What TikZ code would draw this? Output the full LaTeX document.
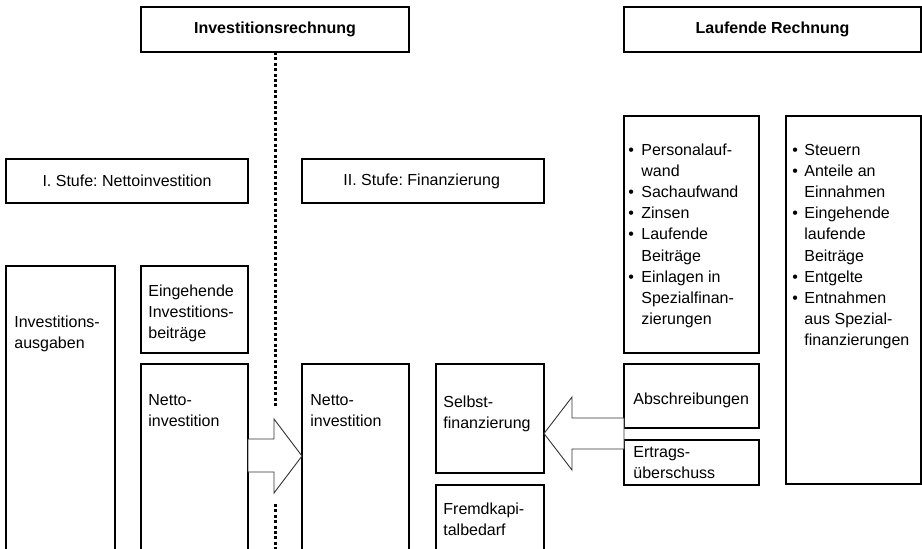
\documentclass[tikz,border=0pt]{standalone}
\usepackage{fontspec}
\setmainfont{Liberation Sans}
\usepackage{tikz}
\usetikzlibrary{positioning}
\frenchspacing

% mehrzeiliger Text, Grundlinie = erste Zeile
\newcommand{\zeilen}[1]{\begin{tabular}[t]{@{}l@{}}#1\end{tabular}}

\begin{document}
\begin{tikzpicture}[x=1pt,y=-1pt,
  every node/.style={font=\fontsize{8}{10.6}\selectfont},
  box/.style={draw,line width=.6pt,inner sep=0pt,outer sep=0pt,anchor=north west},
  headbox/.style={box,minimum height=22.5pt},
  boldtxt/.style={font=\fontsize{8}{10.6}\selectfont\bfseries},
  txt/.style={inner sep=0pt,anchor=base west},
  dotline/.style={line width=1.5pt,dash pattern=on 1.5pt off 1.2pt},
  blockarrow/.style={draw=black!80,line width=.45pt,fill=white,line join=miter}]

  \useasboundingbox (0,0) rectangle (461,274);
  \clip (0,0) rectangle (461,274);

  % Ueberschriften
  \node[headbox,boldtxt,minimum width=134pt] (rech) at (70.5,3.5) {Investitionsrechnung};
  \node[headbox,boldtxt,minimum width=148.5pt] (lauf) at (312,3.5) {Laufende Rechnung};
  \node[headbox,minimum width=121pt,minimum height=22pt] (stufeI) at (3,79.5) {I. Stufe: Nettoinvestition};
  \node[headbox,minimum width=121pt,minimum height=22pt] (stufeII) at (151,79.5) {};
  \node[txt,anchor=west] (stufeIIt) at ([xshift=20.5pt]stufeII.west) {II. Stufe: Finanzierung};

  % Kaesten
  \node[box,minimum width=54.5pt,minimum height=150pt] (ausg) at (3,133) {};
  \node[box,minimum width=53.5pt,minimum height=43.5pt] (beitr) at (70.5,133) {};
  \node[box,minimum width=53.5pt,minimum height=100pt] (nettoL) at (70.5,182) {};
  \node[box,minimum width=53.5pt,minimum height=100pt] (nettoR) at (151,182) {};
  \node[box,minimum width=54pt,minimum height=54.5pt] (selbst) at (218,182) {};
  \node[box,minimum width=54pt,minimum height=40pt] (fremd) at (218,242.5) {};
  \node[box,minimum width=67.5pt,minimum height=118.5pt] (aufw) at (312,58) {};
  \node[box,minimum width=67.5pt,minimum height=184pt] (ertr) at (393,58) {};
  \node[box,minimum width=67.5pt,minimum height=32pt] (abschr) at (312,182) {};
  \node[box,minimum width=67.5pt,minimum height=22.5pt] (ueber) at (312,220) {};

  % Texte
  \node[txt] (ausgT) at ([shift={(4,30.5)}]ausg.north west) {\zeilen{Investitions-\\ausgaben}};
  \node[txt] (beitrT) at ([shift={(3.5,15)}]beitr.north west) {\zeilen{Eingehende\\Investitions-\\beitr\"age}};
  \node[txt] (nettoLT) at ([shift={(3.5,20.5)}]nettoL.north west) {\zeilen{Netto-\\investition}};
  \node[txt] (nettoRT) at ([shift={(4,20.5)}]nettoR.north west) {\zeilen{Netto-\\investition}};
  \node[txt] (selbstT) at ([shift={(3.5,21.5)}]selbst.north west) {\zeilen{Selbst-\\finanzierung}};
  \node[txt] (fremdT) at ([shift={(3.5,14.8)}]fremd.north west) {\zeilen{Fremdkapi-\\talbedarf}};
  \node[txt] (abschrT) at ([shift={(4.5,20)}]abschr.north west) {Abschreibungen};
  \node[txt] (ueberT) at ([shift={(4.5,8.7)}]ueber.north west) {\zeilen{Ertrags-\\\"uberschuss}};
  \node[txt] (aufwT) at ([shift={(2,19.5)}]aufw.north west) {%
    \begin{tabular}[t]{@{}l@{\hspace{3.7pt}}l@{}}
      \textbullet & Personalauf-\\ & wand\\
      \textbullet & Sachaufwand\\
      \textbullet & Zinsen\\
      \textbullet & Laufende\\ & Beitr\"age\\
      \textbullet & Einlagen in\\ & Spezialfinan-\\ & zierungen
    \end{tabular}};
  \node[txt] (ertrT) at ([shift={(3,19.5)}]ertr.north west) {%
    \begin{tabular}[t]{@{}l@{\hspace{3.2pt}}l@{}}
      \textbullet & Steuern\\
      \textbullet & Anteile an\\ & Einnahmen\\
      \textbullet & Eingehende\\ & laufende\\ & Beitr\"age\\
      \textbullet & Entgelte\\
      \textbullet & Entnahmen\\ & aus Spezial-\\ & finanzierungen
    \end{tabular}};

  % gepunktete Trennlinie
  \coordinate (gapA) at (rech.south |- 0,203.5);
  \coordinate (gapB) at (rech.south |- 0,252);
  \coordinate (dotEnd) at (rech.south |- 0,280);
  \draw[dotline] (rech.south) -- (gapA);
  \draw[dotline] (gapB) -- (dotEnd);

  % Blockpfeile
  \draw[blockarrow] (nettoL.east |- 0,219.5) -- (137,219.5) -- (137,209.5)
    -- (nettoR.west |- 0,228) -- (137,246.5) -- (137,236) -- (nettoL.east |- 0,236) -- cycle;
  \draw[blockarrow] (abschr.west |- 0,209) -- (286,209) -- (286,198.5)
    -- (selbst.east |- 0,216.75) -- (286,235) -- (286,224.5) -- (abschr.west |- 0,224.5) -- cycle;
\end{tikzpicture}
\end{document}
